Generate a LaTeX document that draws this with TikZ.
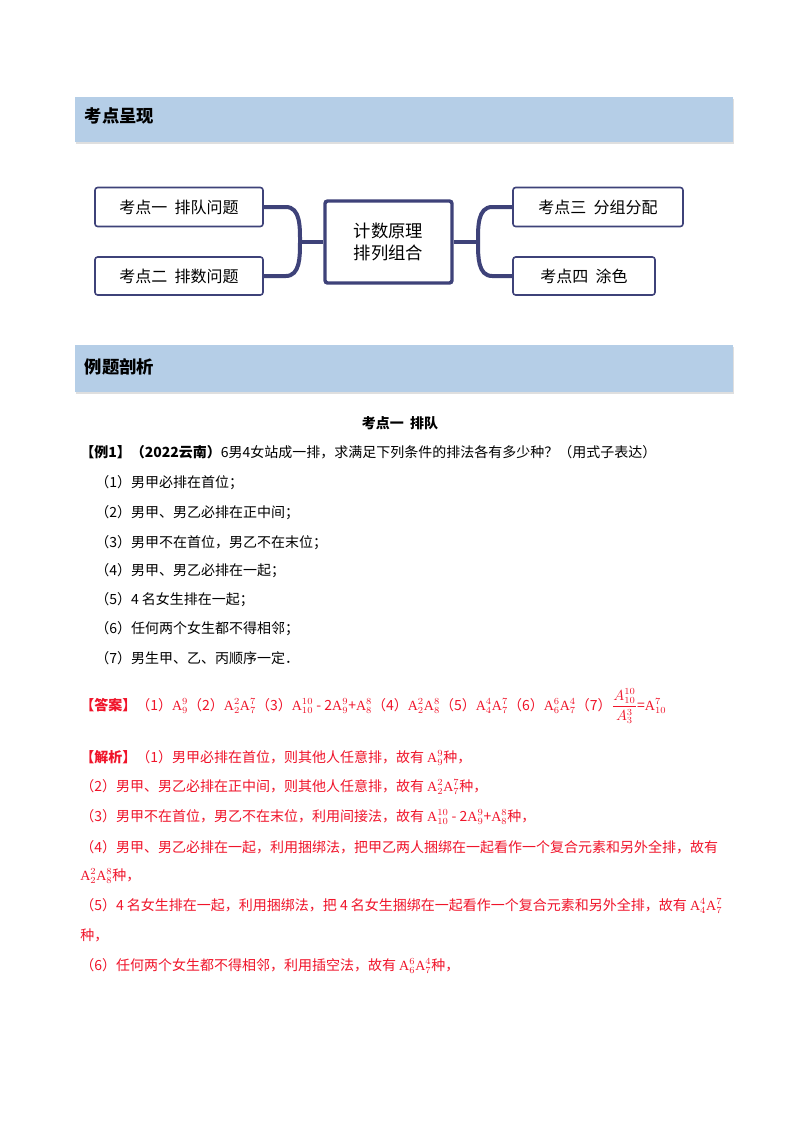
\documentclass[tikz,border=0pt]{standalone}
\usepackage{fontspec}
\setmainfont{Liberation Serif}
\newfontfamily\cjk{Noto Sans CJK SC}
\usetikzlibrary{shadows,calc}
\definecolor{barblue}{HTML}{B5CEE7}
\definecolor{navy}{HTML}{3E4279}
\definecolor{ansred}{HTML}{F0142A}
\newcommand{\A}[2]{$\mathrm{A}_{#1}^{#2}$}
\tikzset{
 bar/.style={fill=barblue,draw=none,drop shadow={shadow xshift=1pt,shadow yshift=-1.5pt,opacity=.25}},
 bartext/.style={anchor=west,font=\cjk\bfseries\fontsize{13}{15}\selectfont},
 leaf/.style={draw=navy,line width=1.2pt,rounded corners=2pt,fill=white,font=\cjk\fontsize{12}{14}\selectfont,anchor=center},
 link/.style={draw=navy,line width=3pt},
 body/.style={anchor=west,font=\cjk\fontsize{10.5}{13}\selectfont,inner sep=0pt},
 red/.style={body,text=ansred},
}
\begin{document}
\begin{tikzpicture}[x=0.75pt,y=-0.75pt]
\useasboundingbox (0,0) rectangle (800,1132);
\fill[white] (0,0) rectangle (800,1132);
% bars
\path[bar] (75,97) rectangle (733,142);
\node[bartext] (h1) at (80,116) {考点呈现};
\path[bar] (75,345) rectangle (733,392);
\node[bartext] (h2) at (80,367) {例题剖析};
% mind map
\node[leaf,minimum width=168*0.75pt,minimum height=39*0.75pt] (k1) at (179,207) {考点一\ \ 排队问题};
\node[leaf,minimum width=168*0.75pt,minimum height=38*0.75pt] (k2) at (179,276) {考点二\ \ 排数问题};
\node[leaf,minimum width=170*0.75pt,minimum height=39*0.75pt] (k3) at (598,207) {考点三\ \ 分组分配};
\node[leaf,minimum width=142*0.75pt,minimum height=38*0.75pt] (k4) at (584,276) {考点四\ \ 涂色};
\coordinate (jl) at (300,242);
\coordinate (jr) at (478,242);
\draw[link] (k1.east) -- ++(22,0) to[out=0,in=90] (jl) to[out=-90,in=0] ($(k2.east)+(22,0)$) -- (k2.east);
\draw[link] (k3.west) -- ++(-20,0) to[out=180,in=90] (jr) to[out=-90,in=180] ($(k4.west)+(-20,0)$) -- (k4.west);
\node[draw=navy,line width=2.6pt,rounded corners=2pt,fill=white,minimum width=127*0.75pt,minimum height=82*0.75pt,align=center,font=\cjk\fontsize{13}{17}\selectfont] (c) at (388.5,242) {计数原理\\排列组合};
\draw[link] (jl) -- (c.west);
\draw[link] (jr) -- (c.east);
% problem
\node[font=\cjk\bfseries\fontsize{10.5}{13}\selectfont] (t) at (400,423) {考点一\ \ 排队};
\node[body] (e) at (80,452) {\textbf{【例1】（2022云南）}6男4女站成一排，求满足下列条件的排法各有多少种？（用式子表达）};
\node[body] (p1) at (95,483) {（1）男甲必排在首位；};
\node[body] (p2) at (95,513) {（2）男甲、男乙必排在正中间；};
\node[body] (p3) at (95,543) {（3）男甲不在首位，男乙不在末位；};
\node[body] (p4) at (95,571) {（4）男甲、男乙必排在一起；};
\node[body] (p5) at (95,600) {（5）4 名女生排在一起；};
\node[body] (p6) at (95,629) {（6）任何两个女生都不得相邻；};
\node[body] (p7) at (95,658) {（7）男生甲、乙、丙顺序一定．};
\node[red] (ans) at (80,706) {\textbf{【答案】}（1）\A{9}{9}（2）\A{2}{2}\A{7}{7}（3）\A{10}{10} - 2\A{9}{9}+\A{8}{8}（4）\A{2}{2}\A{8}{8}（5）\A{4}{4}\A{7}{7}（6）\A{6}{6}\A{7}{4}（7）$\displaystyle\frac{A_{10}^{10}}{A_3^3}$=\A{10}{7}};
\node[red] (j1) at (80,758) {\textbf{【解析】}（1）男甲必排在首位，则其他人任意排，故有 \A{9}{9}种，};
\node[red] (j2) at (80,787) {（2）男甲、男乙必排在正中间，则其他人任意排，故有 \A{2}{2}\A{7}{7}种，};
\node[red] (j3) at (80,817) {（3）男甲不在首位，男乙不在末位，利用间接法，故有 \A{10}{10} - 2\A{9}{9}+\A{8}{8}种，};
\node[red] (j4) at (80,847) {（4）男甲、男乙必排在一起，利用捆绑法，把甲乙两人捆绑在一起看作一个复合元素和另外全排，故有};
\node[red] (j4b) at (80,876) {\A{2}{2}\A{8}{8}种，};
\node[red] (j5) at (80,906) {（5）4 名女生排在一起，利用捆绑法，把 4 名女生捆绑在一起看作一个复合元素和另外全排，故有 \A{4}{4}\A{7}{7}};
\node[red] (j5b) at (80,935) {种，};
\node[red] (j6) at (80,966) {（6）任何两个女生都不得相邻，利用插空法，故有 \A{6}{6}\A{7}{4}种，};
\end{tikzpicture}
\end{document}
